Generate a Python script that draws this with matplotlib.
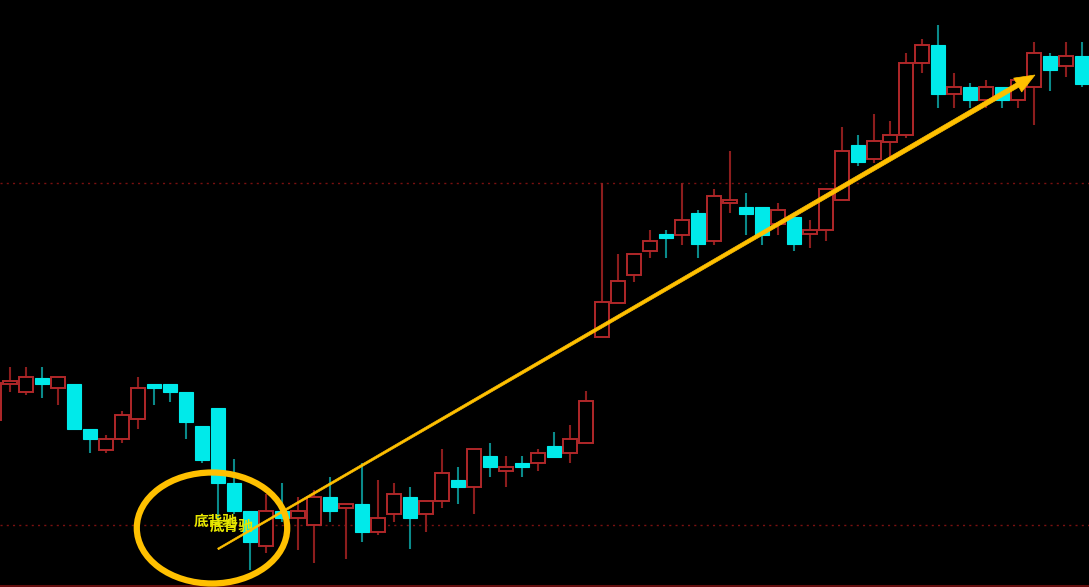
import numpy as np
import matplotlib.pyplot as plt
from matplotlib.patches import Rectangle, Ellipse, Polygon

plt.rcParams['font.family'] = ['Noto Sans CJK SC', 'DejaVu Sans']

# candle data (price units); first candle (index -1) is cut off at the left edge
opens = [180, 216, 208, 222, 212, 216, 171, 150, 161, 181,
         216, 216, 208, 174, 192, 117, 89, 54, 89, 82,
         75, 103, 92, 96, 68, 86, 103, 86, 99, 120,
         113, 144, 129, 137, 137, 154, 147, 157, 263, 297,
         325, 349, 366, 365, 387, 359, 397, 393, 393, 376,
         383, 366, 370, 400, 455, 441, 458, 465, 537, 555,
         506, 513, 500, 513, 500, 513, 544, 534, 544]
closes = [217, 219, 223, 216, 223, 171, 161, 161, 185, 212,
          212, 208, 178, 140, 117, 89, 58, 89, 82, 89,
          103, 89, 96, 68, 82, 106, 82, 99, 127, 113,
          151, 133, 133, 133, 147, 143, 161, 199, 298, 319,
          346, 359, 362, 380, 356, 404, 400, 386, 365, 390,
          356, 370, 411, 449, 438, 459, 465, 537, 555, 506,
          513, 500, 513, 500, 520, 547, 530, 544, 516]
highs = [217, 233, 233, 233, 223, 216, 171, 165, 189, 223,
         216, 216, 208, 174, 192, 141, 89, 106, 117, 103,
         110, 123, 96, 137, 120, 117, 113, 99, 151, 133,
         151, 157, 144, 144, 151, 168, 175, 209, 417, 346,
         346, 370, 370, 417, 390, 411, 449, 407, 393, 397,
         383, 380, 411, 473, 465, 486, 479, 547, 561, 575,
         527, 517, 520, 513, 520, 558, 547, 558, 558]
lows = [180, 208, 205, 202, 195, 171, 147, 147, 157, 171,
        195, 198, 161, 137, 75, 86, 30, 47, 78, 50,
        37, 78, 41, 58, 65, 78, 51, 68, 92, 96,
        86, 123, 113, 123, 129, 143, 137, 157, 263, 297,
        318, 342, 342, 355, 342, 355, 387, 365, 355, 365,
        349, 352, 359, 400, 434, 437, 443, 462, 527, 492,
        492, 492, 492, 492, 492, 475, 509, 523, 513]
idx = np.arange(-1, len(opens) - 1)

bg = 'black'
up_edge = '#b0282a'
up_wick = '#8c1d1d'
down_face = '#00eaea'
down_wick = '#0a8a8a'
gold = '#ffc000'

fig = plt.figure(figsize=(10.89, 5.87), dpi=100, facecolor=bg)
ax = fig.add_axes([0, 0, 1, 1], facecolor=bg)
ax.set_xlim(-0.625, 67.4375)
ax.set_ylim(13, 600)
ax.axis('off')

# grid lines
for gy in [417, 75]:
    ax.axhline(gy, color='#7a1010', lw=1, ls=(0, (1.5, 3)), zorder=1)
ax.axhline(14.5, color='#7a1010', lw=1.2, zorder=1)

w = 0.82
for i, o, c, h, l in zip(idx, opens, closes, highs, lows):
    top, bot = max(o, c), min(o, c)
    if c >= o:
        ax.plot([i, i], [top, h], color=up_wick, lw=1.5, zorder=2, solid_capstyle='butt')
        ax.plot([i, i], [l, bot], color=up_wick, lw=1.5, zorder=2, solid_capstyle='butt')
        ax.add_patch(Rectangle((i - w / 2, bot), w, max(top - bot, 0.5), facecolor=bg,
                               edgecolor=up_edge, lw=1.4, zorder=3))
    else:
        ax.plot([i, i], [l, h], color=down_wick, lw=1.5, zorder=2, solid_capstyle='butt')
        ax.add_patch(Rectangle((i - w / 2, bot), w, max(top - bot, 0.5), facecolor=down_face,
                               edgecolor=down_face, lw=0.8, zorder=3))

# ellipse around the bottom
ax.add_patch(Ellipse((12.625, 72), 9.4, 111, fill=False, edgecolor=gold, lw=4.5, zorder=5))

# label, drawn twice overlapping like the original
ax.text(11.5, 79, '底背驰', color='#e6e600', fontsize=10.5, fontweight='bold',
        va='center', ha='left', zorder=6)
ax.text(12.45, 74, '底背驰', color='#e6e600', fontsize=10.5, fontweight='bold',
        va='center', ha='left', zorder=6)

# tapering arrow built in pixel space
start = np.array(ax.transData.transform((13.0, 51)))
tip = np.array(ax.transData.transform((64.06, 525)))
d = (tip - start) / np.linalg.norm(tip - start)
n = np.array([-d[1], d[0]])
head_len, head_w = 20, 8
base = tip - d * head_len
w0, w1 = 0.8, 2.4
pts = [start + n * w0, base + n * w1, base + n * head_w, tip, base - n * head_w,
       base - n * w1, start - n * w0]
pts = ax.transData.inverted().transform(np.array(pts))
ax.add_patch(Polygon(pts, closed=True, facecolor=gold, edgecolor=gold, lw=0.5, zorder=7))

plt.savefig('out.png', dpi=100, facecolor=bg)
